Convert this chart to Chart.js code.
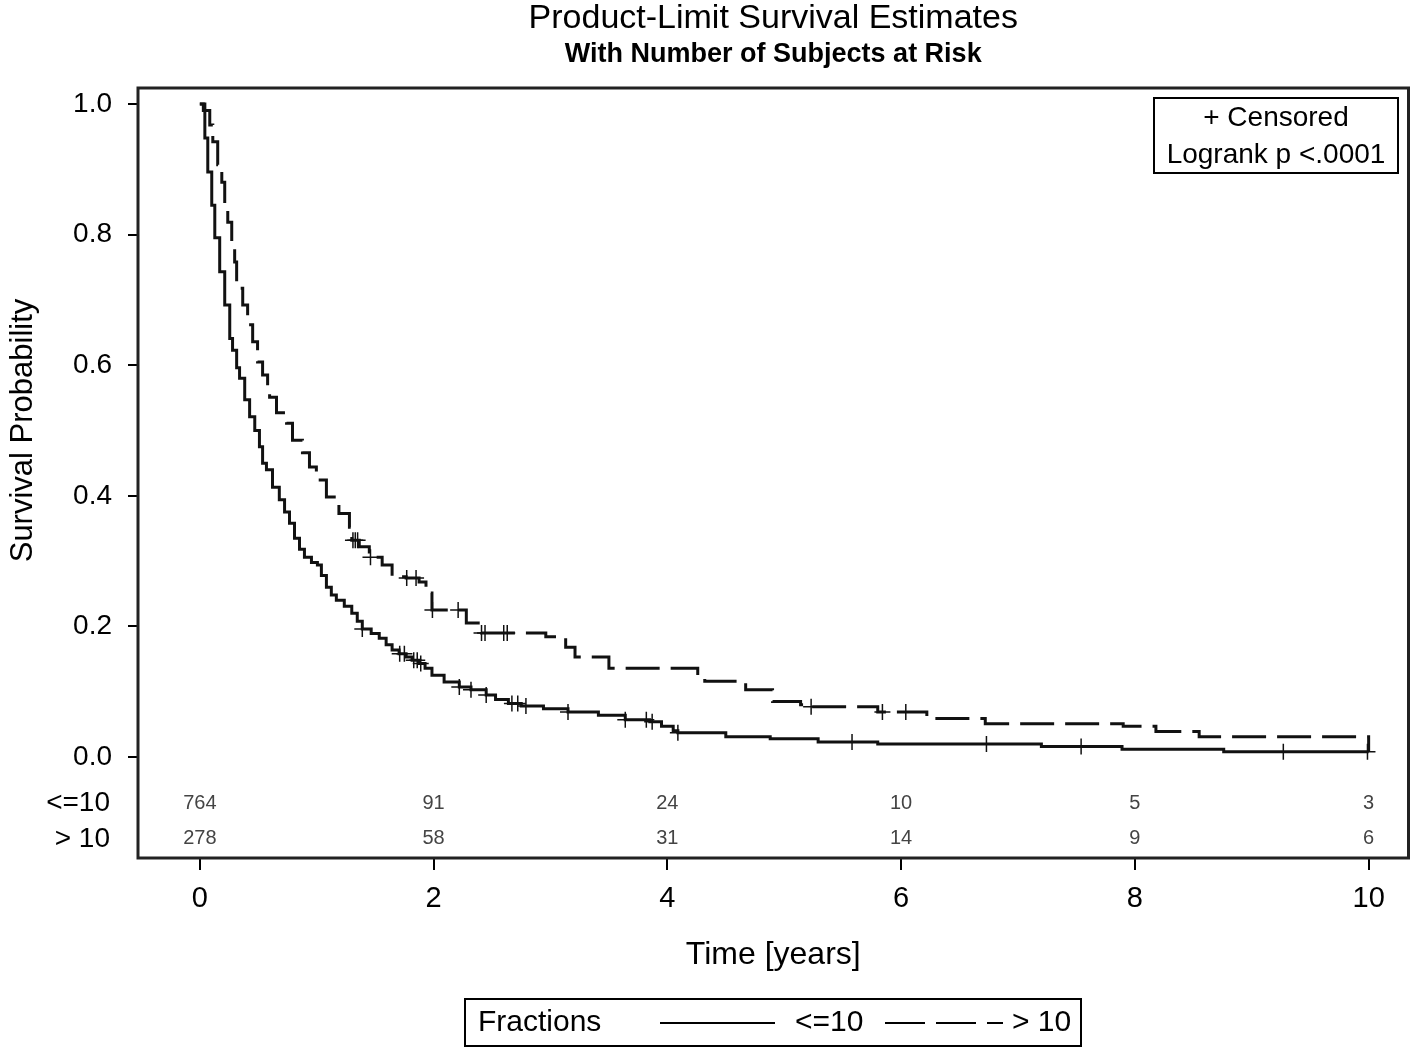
<!DOCTYPE html>
<html lang="en">
<head>
  <meta charset="UTF-8">
  <title>Product-Limit Survival Estimates</title>
  <script src="https://cdn.jsdelivr.net/npm/chart.js"></script>
  <style>
    body { margin: 0; background: #fff; }
    canvas { display: block; }
  </style>
</head>
<body>
  <canvas id="km" width="1418" height="1050"></canvas>

  <script>
    // Kaplan-Meier estimates (time in years, survival probability)
    const timeLow = [0, 0.043, 0.068, 0.102, 0.128, 0.17, 0.213, 0.256, 0.28, 0.315, 0.34, 0.384, 0.426, 0.47, 0.51, 0.537, 0.57, 0.622, 0.68, 0.725, 0.767, 0.81, 0.853, 0.895, 0.955, 1.006, 1.04, 1.083, 1.125, 1.168, 1.236, 1.30, 1.347, 1.39, 1.466, 1.535, 1.594, 1.645, 1.705, 1.765, 1.816, 1.876, 1.927, 1.986, 2.09, 2.22, 2.32, 2.45, 2.53, 2.64, 2.75, 2.94, 3.15, 3.41, 3.64, 3.85, 3.95, 4.05, 4.09, 4.50, 4.88, 5.29, 5.80, 7.20, 7.89, 8.76, 10.0];
    const survLow = [1.0, 0.948, 0.896, 0.845, 0.795, 0.743, 0.692, 0.641, 0.623, 0.596, 0.58, 0.547, 0.521, 0.50, 0.475, 0.45, 0.44, 0.413, 0.394, 0.375, 0.358, 0.335, 0.318, 0.306, 0.298, 0.294, 0.278, 0.26, 0.248, 0.24, 0.231, 0.22, 0.208, 0.196, 0.189, 0.182, 0.172, 0.164, 0.158, 0.153, 0.148, 0.143, 0.136, 0.125, 0.115, 0.107, 0.103, 0.095, 0.088, 0.082, 0.078, 0.074, 0.069, 0.064, 0.057, 0.054, 0.047, 0.040, 0.037, 0.031, 0.028, 0.023, 0.020, 0.016, 0.012, 0.008, 0.008];

    const timeHigh = [0, 0.03, 0.085, 0.111, 0.153, 0.188, 0.213, 0.239, 0.273, 0.298, 0.315, 0.367, 0.409, 0.452, 0.494, 0.537, 0.58, 0.597, 0.656, 0.742, 0.793, 0.878, 0.938, 0.997, 1.083, 1.19, 1.28, 1.30, 1.364, 1.45, 1.56, 1.645, 1.765, 1.876, 1.935, 1.986, 2.28, 2.41, 2.96, 3.13, 3.21, 3.50, 4.26, 4.32, 4.67, 4.90, 5.14, 5.23, 5.80, 6.22, 6.72, 7.90, 8.18, 8.55, 10.0];
    const survHigh = [1.0, 0.99, 0.968, 0.942, 0.907, 0.88, 0.841, 0.819, 0.78, 0.758, 0.718, 0.692, 0.662, 0.636, 0.605, 0.585, 0.559, 0.551, 0.527, 0.511, 0.485, 0.466, 0.444, 0.424, 0.398, 0.373, 0.352, 0.332, 0.322, 0.306, 0.294, 0.276, 0.274, 0.268, 0.251, 0.225, 0.205, 0.19, 0.184, 0.168, 0.153, 0.136, 0.125, 0.116, 0.103, 0.085, 0.080, 0.077, 0.069, 0.059, 0.051, 0.047, 0.039, 0.031, 0.008];

    // censored observations
    const censLowT = [1.39, 1.71, 1.75, 1.83, 1.86, 1.89, 2.22, 2.32, 2.45, 2.67, 2.72, 2.79, 3.15, 3.64, 3.82, 3.87, 4.09, 5.58, 6.73, 7.54, 9.27, 9.99];
    const censLowS = [0.196, 0.158, 0.158, 0.148, 0.148, 0.143, 0.107, 0.103, 0.095, 0.082, 0.082, 0.078, 0.069, 0.057, 0.057, 0.054, 0.037, 0.023, 0.020, 0.016, 0.008, 0.008];
    const censHighT = [1.31, 1.33, 1.35, 1.46, 1.77, 1.85, 1.99, 2.21, 2.41, 2.44, 2.60, 2.63, 5.23, 5.84, 6.04];
    const censHighS = [0.332, 0.332, 0.332, 0.306, 0.274, 0.274, 0.225, 0.225, 0.19, 0.19, 0.19, 0.19, 0.077, 0.069, 0.069];

    // number at risk table
    const riskTimes = [0, 2, 4, 6, 8, 10];
    const riskLow = [764, 91, 24, 10, 5, 3];
    const riskHigh = [278, 58, 31, 14, 9, 6];

    const xTicks = [0, 2, 4, 6, 8, 10];
    const yTicks = [0, 0.2, 0.4, 0.6, 0.8, 1.0];
    const groups = ['<=10', '> 10'];

    const FONT = '"Liberation Sans", Arial, sans-serif';
    const pts = (t, s) => t.map((v, i) => ({ x: v, y: s[i] }));

    // extra text, frame, at-risk table and legend
    const decorations = {
      id: 'decorations',
      beforeDraw(chart) {
        const c = chart.ctx;
        c.save();
        c.fillStyle = '#fff';
        c.fillRect(0, 0, chart.width, chart.height);
        c.restore();
      },
      afterDraw(chart) {
        const c = chart.ctx;
        const a = chart.chartArea;
        const xs = chart.scales.x, ys = chart.scales.y;
        const cx = (a.left + a.right) / 2;
        c.save();

        // frame
        c.strokeStyle = '#222';
        c.lineWidth = 3;
        c.strokeRect(a.left, a.top, a.right - a.left, a.bottom - a.top);

        c.fillStyle = '#000';
        c.textAlign = 'center';
        c.textBaseline = 'middle';
        c.font = '34px ' + FONT;
        c.fillText('Product-Limit Survival Estimates', cx, 19);
        c.font = 'bold 27px ' + FONT;
        c.fillText('With Number of Subjects at Risk', cx, 55);

        // axis titles
        c.font = '32px ' + FONT;
        c.fillText('Time [years]', cx, 955);
        c.save();
        c.translate(23, (ys.getPixelForValue(0) + ys.getPixelForValue(1)) / 2);
        c.rotate(-Math.PI / 2);
        c.font = '31px ' + FONT;
        c.fillText('Survival Probability', 0, 0);
        c.restore();

        // subjects at risk
        const rowY = [ys.getPixelForValue(-0.0705), ys.getPixelForValue(-0.1255)];
        c.font = '20px ' + FONT;
        c.fillStyle = '#444';
        riskTimes.forEach((t, i) => {
          const px = xs.getPixelForValue(t);
          c.fillText(String(riskLow[i]), px, rowY[0]);
          c.fillText(String(riskHigh[i]), px, rowY[1]);
        });
        c.fillStyle = '#000';
        c.textAlign = 'right';
        c.font = '28px ' + FONT;
        c.fillText(groups[0], 110, rowY[0]);
        c.fillText(groups[1], 110, rowY[1]);

        // inset box
        c.lineWidth = 2;
        c.strokeStyle = '#000';
        c.strokeRect(1154, 98, 244, 75);
        c.textAlign = 'center';
        c.font = '28px ' + FONT;
        c.fillText('+ Censored', 1276, 118);
        c.fillText('Logrank p <.0001', 1276, 155);

        // legend
        c.strokeRect(465, 999, 616, 47);
        c.textAlign = 'left';
        c.font = '30px ' + FONT;
        c.fillText('Fractions', 478, 1023);
        c.fillText(groups[0], 795, 1023);
        c.fillText(groups[1], 1012, 1023);
        c.lineWidth = 2;
        c.beginPath();
        c.moveTo(660, 1023); c.lineTo(775, 1023);
        c.stroke();
        c.setLineDash([40, 11]);
        c.beginPath();
        c.moveTo(885, 1023); c.lineTo(1003, 1023);
        c.stroke();
        c.restore();
      }
    };

    new Chart(document.getElementById('km'), {
      type: 'line',
      data: {
        datasets: [
          {
            label: groups[0],
            data: pts(timeLow, survLow),
            stepped: 'before',
            borderColor: '#111',
            borderWidth: 3,
            pointRadius: 0,
            fill: false
          },
          {
            label: groups[1],
            data: pts(timeHigh, survHigh),
            stepped: 'before',
            borderColor: '#111',
            borderWidth: 3,
            borderDash: [34, 11],
            pointRadius: 0,
            fill: false
          },
          {
            label: 'Censored ' + groups[0],
            data: pts(censLowT, censLowS),
            showLine: false,
            pointStyle: 'cross',
            pointRadius: 8,
            pointBorderWidth: 1.5,
            pointBorderColor: '#111'
          },
          {
            label: 'Censored ' + groups[1],
            data: pts(censHighT, censHighS),
            showLine: false,
            pointStyle: 'cross',
            pointRadius: 8,
            pointBorderWidth: 1.5,
            pointBorderColor: '#111'
          }
        ]
      },
      options: {
        responsive: false,
        animation: false,
        devicePixelRatio: 1,
        layout: { padding: { top: 88, right: 5, left: 0, bottom: 0 } },
        plugins: {
          legend: { display: false },
          tooltip: { enabled: false },
          title: { display: false }
        },
        scales: {
          x: {
            type: 'linear',
            min: -0.529,
            max: 10.341,
            afterBuildTicks: s => { s.ticks = xTicks.map(v => ({ value: v })); },
            afterFit: s => { s.height = 192; },
            grid: { drawOnChartArea: false, drawTicks: true, tickLength: 12, color: '#000', lineWidth: 2 },
            border: { display: false },
            ticks: {
              autoSkip: false,
              maxRotation: 0,
              padding: 12,
              color: '#000',
              font: { family: FONT, size: 29 },
              callback: v => String(v)
            }
          },
          y: {
            type: 'linear',
            min: -0.1547,
            max: 1.0245,
            afterBuildTicks: s => { s.ticks = yTicks.map(v => ({ value: v })); },
            afterFit: s => { s.width = 138; },
            grid: { drawOnChartArea: false, drawTicks: true, tickLength: 10, color: '#000', lineWidth: 2 },
            border: { display: false },
            ticks: {
              padding: 16,
              color: '#000',
              font: { family: FONT, size: 28 },
              callback: v => v.toFixed(1)
            }
          }
        }
      },
      plugins: [decorations]
    });
  </script>
</body>
</html>
